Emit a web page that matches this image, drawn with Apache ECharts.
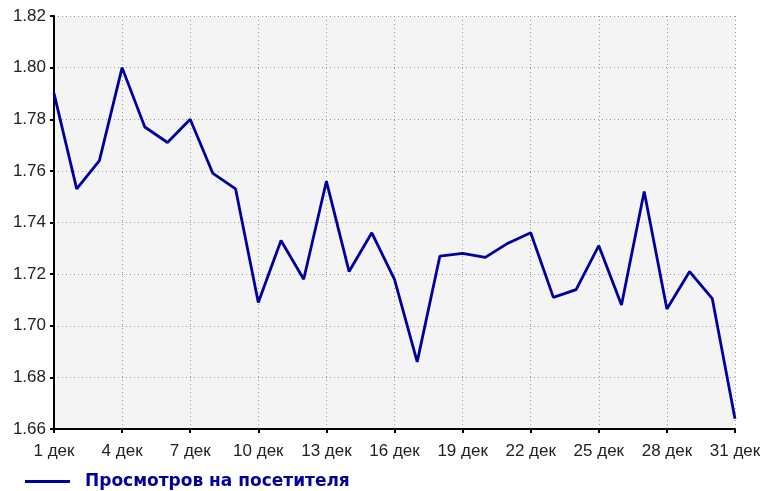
<!DOCTYPE html>
<html>
<head>
<meta charset="utf-8">
<script src="https://cdn.jsdelivr.net/npm/echarts@6/dist/echarts.min.js"></script>
<style>
  html, body { margin: 0; padding: 0; background: #fff; }
  #chart { width: 760px; height: 491px; }
</style>
</head>
<body>
<div id="chart"></div>
<script>
// дни декабря
var days = []
for (var d = 1; d <= 31; d++) days.push(d + ' дек')

// просмотров на посетителя
var viewsPerVisitor = [
  1.790, 1.753, 1.764, 1.800, 1.777, 1.771, 1.780, 1.759, 1.753, 1.709,
  1.733, 1.718, 1.756, 1.721, 1.736, 1.718, 1.686, 1.727, 1.728, 1.7265,
  1.732, 1.736, 1.711, 1.714, 1.731, 1.708, 1.752, 1.7065, 1.721, 1.7105,
  1.664
]

var seriesName = 'Просмотров на посетителя'

var chart = echarts.init(document.getElementById('chart'))
chart.setOption({
  animation: false,
  // сетка
  grid: {
    left: 54,
    right: 25,
    top: 16,
    bottom: 62,
    outerBoundsMode: 'none',
    show: true,
    backgroundColor: '#f4f4f4',
    borderWidth: 0
  },
  legend: {
    data: [{ name: seriesName, icon: 'rect' }],
    left: 25,
    top: 473,
    padding: 0,
    itemWidth: 45,
    itemHeight: 3,
    textStyle: {
      color: '#00009a',
      fontFamily: 'DejaVu Sans, Verdana, sans-serif',
      fontWeight: 'bold',
      fontSize: 17,
      padding: [0, 0, 0, 10]
    }
  },
  xAxis: {
    type: 'category',
    data: days,
    boundaryGap: false,
    axisLine: { lineStyle: { color: '#000', width: 2 } },
    axisTick: { interval: 2, length: 4, lineStyle: { color: '#000', width: 2 } },
    axisLabel: {
      interval: 2,
      color: '#222',
      fontFamily: 'Liberation Sans, Arial, sans-serif',
      fontSize: 17,
      margin: 14
    },
    splitLine: {
      show: true,
      interval: 2,
      lineStyle: { color: '#999', type: [1, 3], width: 1 }
    }
  },
  yAxis: {
    type: 'value',
    min: 1.66,
    max: 1.82,
    interval: 0.02,
    axisLine: { show: true, lineStyle: { color: '#000', width: 2 } },
    axisTick: { show: true, length: 4, lineStyle: { color: '#000', width: 2 } },
    axisLabel: {
      color: '#222',
      fontFamily: 'Liberation Sans, Arial, sans-serif',
      fontSize: 17,
      margin: 8,
      formatter: function (v) { return v.toFixed(2) }
    },
    splitLine: {
      show: true,
      lineStyle: { color: '#999', type: [1, 3], width: 1 }
    }
  },
  series: [{
    name: seriesName,
    type: 'line',
    data: viewsPerVisitor,
    symbol: 'none',
    color: '#0000a0',
    lineStyle: { color: '#0000a0', width: 2.8 }
  }]
})
</script>
</body>
</html>
